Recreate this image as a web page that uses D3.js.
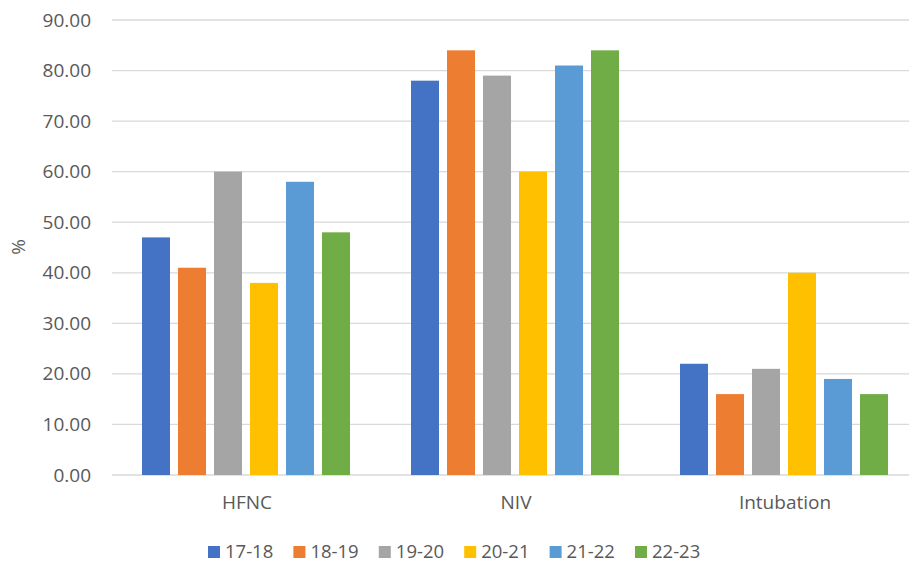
<!DOCTYPE html>
<html>
<head>
<meta charset="utf-8">
<script src="https://cdn.jsdelivr.net/npm/d3@7/dist/d3.min.js"></script>
<style>
  html, body { margin: 0; padding: 0; background: #fff; }
  svg { display: block; font-family: "Open Sans", "Noto Sans", sans-serif; }
</style>
</head>
<body>
<div id="chart"></div>
<script>
// Respiratory support by season (%)
const categories = ["HFNC", "NIV", "Intubation"];
const seasons = ["17-18", "18-19", "19-20", "20-21", "21-22", "22-23"];
const values_17_18 = [47, 78, 22];
const values_18_19 = [41, 84, 16];
const values_19_20 = [60, 79, 21];
const values_20_21 = [38, 60, 40];
const values_21_22 = [58, 81, 19];
const values_22_23 = [48, 84, 16];
const yTicks = [0, 10, 20, 30, 40, 50, 60, 70, 80, 90];
const colors = ["#4472C4", "#ED7D31", "#A5A5A5", "#FFC000", "#5B9BD5", "#70AD47"];

const seriesValues = [values_17_18, values_18_19, values_19_20, values_20_21, values_21_22, values_22_23];
const rows = categories.map((c, i) => ({
  category: c,
  values: seasons.map((s, j) => ({ season: s, value: seriesValues[j][i], color: colors[j] }))
}));

const W = 909, H = 562;
const svg = d3.select("#chart").append("svg").attr("width", W).attr("height", H);

const y = d3.scaleLinear().domain([0, 90]).range([475, 20]);
const x0 = d3.scaleBand().domain(categories).range([111.5, 918.5]);
const x1 = d3.scaleBand().domain(seasons).range([-104, 104]).paddingInner(8 / 36).paddingOuter(0);

const textColor = "#595959";

// Gridlines
svg.append("g")
  .selectAll("line")
  .data(yTicks)
  .join("line")
  .attr("x1", 112).attr("x2", W)
  .attr("y1", d => y(d)).attr("y2", d => y(d))
  .attr("stroke", "#d9d9d9").attr("stroke-width", 1.3);

// Y axis labels
const yAxis = d3.axisLeft(y).tickValues(yTicks).tickFormat(d3.format(".2f")).tickSize(0).tickPadding(0);
const yg = svg.append("g").attr("transform", "translate(91,0)").call(yAxis);
yg.select(".domain").remove();
yg.selectAll("text").attr("fill", textColor).style("font-size", "19px").style("font-family", "'Open Sans', sans-serif");

// Y axis title
svg.append("text")
  .attr("transform", "translate(25,247) rotate(-90)")
  .attr("text-anchor", "middle")
  .attr("fill", textColor)
  .style("font-size", "19px")
  .text("%");

// Bars
const groups = svg.append("g").selectAll("g")
  .data(rows)
  .join("g")
  .attr("transform", d => `translate(${x0(d.category) + x0.bandwidth() / 2},0)`);

groups.selectAll("rect")
  .data(d => d.values)
  .join("rect")
  .attr("x", d => x1(d.season))
  .attr("width", x1.bandwidth())
  .attr("y", d => y(d.value))
  .attr("height", d => y(0) - y(d.value))
  .attr("fill", d => d.color);

// Category labels
const xAxis = d3.axisBottom(x0).tickSize(0).tickPadding(0);
const xg = svg.append("g").attr("transform", "translate(1,495)").call(xAxis);
xg.select(".domain").remove();
xg.selectAll("text").attr("fill", textColor).style("font-size", "19px").style("font-family", "'Open Sans', sans-serif").attr("dy", "0.71em");

// Legend
const legend = svg.append("g").selectAll("g")
  .data(seasons)
  .join("g")
  .attr("transform", (d, i) => `translate(${208 + i * 85.4},546)`);
legend.append("rect")
  .attr("width", 12).attr("height", 12)
  .attr("fill", (d, i) => colors[i]);
legend.append("text")
  .attr("x", 17).attr("y", 6).attr("dy", "0.35em")
  .attr("fill", textColor)
  .style("font-size", "18.5px")
  .text(d => d);
</script>
</body>
</html>
